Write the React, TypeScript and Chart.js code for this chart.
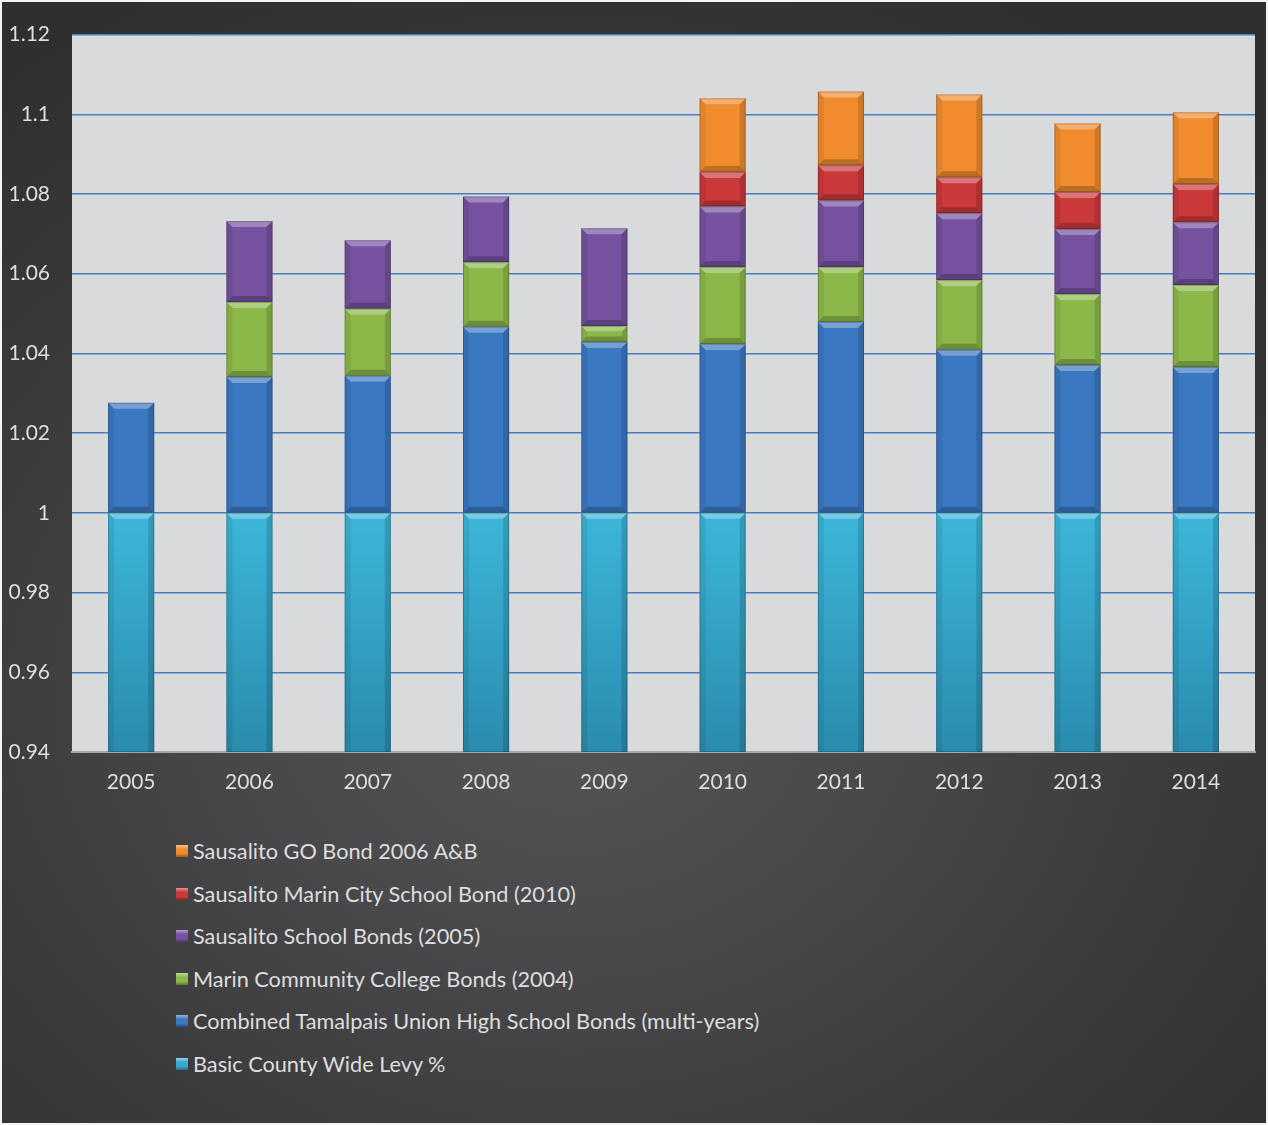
import React, { useEffect, useRef } from "react";
import { Chart, registerables } from "chart.js";

Chart.register(...registerables);

// ---- data ----
const years = ["2005", "2006", "2007", "2008", "2009", "2010", "2011", "2012", "2013", "2014"];
const basicLevy = [1, 1, 1, 1, 1, 1, 1, 1, 1, 1];
const tamalpaisBonds = [0.0276, 0.0341, 0.0344, 0.0467, 0.0429, 0.0424, 0.0479, 0.0409, 0.0371, 0.0366];
const marinCollegeBonds = [null, 0.0188, 0.0168, 0.0162, 0.004, 0.0193, 0.0138, 0.0175, 0.0178, 0.0206];
const sausalitoSchool2005 = [null, 0.0203, 0.0172, 0.0165, 0.0245, 0.0152, 0.0167, 0.0168, 0.0163, 0.0157];
const marinCitySchool2010 = [null, null, null, null, null, 0.0086, 0.0088, 0.009, 0.0093, 0.0096];
const goBond2006 = [null, null, null, null, null, 0.0185, 0.0185, 0.0208, 0.0172, 0.018];

const seriesNames = [
  "Basic County Wide Levy %",
  "Combined Tamalpais Union High School Bonds (multi-years)",
  "Marin Community College Bonds (2004)",
  "Sausalito School Bonds (2005)",
  "Sausalito Marin City School Bond (2010)",
  "Sausalito GO Bond 2006 A&B",
];
const seriesValues = [basicLevy, tamalpaisBonds, marinCollegeBonds, sausalitoSchool2005, marinCitySchool2010, goBond2006];
const seriesColors = ["#36a9cd", "#3b78c2", "#8cb84a", "#7652a0", "#cc393b", "#f08c2e"];

const yMin = 0.94;
const yMax = 1.12;
const yStep = 0.02;

const FONT = "Lato, 'Open Sans', sans-serif";
const TEXT = "#dedede";

const plotBgPlugin = {
  id: "plotBg",
  beforeDraw(chart: any) {
    const { ctx, chartArea } = chart;
    if (!chartArea) return;
    ctx.save();
    ctx.fillStyle = "#d9dadc";
    ctx.fillRect(chartArea.left, chartArea.top, chartArea.right - chartArea.left, chartArea.bottom - chartArea.top);
    ctx.restore();
  },
};

const bevelPlugin = {
  id: "bevel",
  afterDatasetsDraw(chart: any) {
    const { ctx, chartArea } = chart;
    ctx.save();
    ctx.beginPath();
    ctx.rect(chartArea.left, chartArea.top, chartArea.right - chartArea.left, chartArea.bottom - chartArea.top);
    ctx.clip();
    chart.data.datasets.forEach((_: any, i: number) => {
      const meta = chart.getDatasetMeta(i);
      meta.data.forEach((el: any) => {
        const p = el.getProps(["x", "y", "base", "width"], true);
        if (p.y == null || isNaN(p.y)) return;
        const left = p.x - p.width / 2;
        const right = p.x + p.width / 2;
        const top = Math.min(p.y, p.base);
        const rawBottom = Math.max(p.y, p.base);
        const clipped = rawBottom > chartArea.bottom + 0.5;
        const bottom = Math.min(rawBottom, chartArea.bottom);
        const h = bottom - top;
        if (h < 1) return;
        const b = Math.min(6, h / 3);
        // top bevel (light)
        ctx.fillStyle = "rgba(255,255,255,0.3)";
        ctx.beginPath();
        ctx.moveTo(left, top);
        ctx.lineTo(right, top);
        ctx.lineTo(right - b, top + b);
        ctx.lineTo(left + b, top + b);
        ctx.closePath();
        ctx.fill();
        // bottom bevel (dark)
        if (!clipped) {
          ctx.fillStyle = "rgba(0,0,0,0.22)";
          ctx.beginPath();
          ctx.moveTo(left, bottom);
          ctx.lineTo(right, bottom);
          ctx.lineTo(right - b, bottom - b);
          ctx.lineTo(left + b, bottom - b);
          ctx.closePath();
          ctx.fill();
        }
        const bb = clipped ? 0 : b;
        // left bevel
        ctx.fillStyle = "rgba(0,0,0,0.07)";
        ctx.beginPath();
        ctx.moveTo(left, top);
        ctx.lineTo(left + b, top + b);
        ctx.lineTo(left + b, bottom - bb);
        ctx.lineTo(left, bottom);
        ctx.closePath();
        ctx.fill();
        // right bevel
        ctx.fillStyle = "rgba(0,0,0,0.14)";
        ctx.beginPath();
        ctx.moveTo(right, top);
        ctx.lineTo(right - b, top + b);
        ctx.lineTo(right - b, bottom - bb);
        ctx.lineTo(right, bottom);
        ctx.closePath();
        ctx.fill();
        // outline
        ctx.strokeStyle = "rgba(0,0,0,0.2)";
        ctx.lineWidth = 1;
        ctx.strokeRect(left + 0.5, top + 0.5, p.width - 1, h - 1);
      });
    });
    ctx.restore();
  },
};

function LegendBox({ color }: { color: string }) {
  return (
    <span
      style={{
        display: "inline-block",
        width: 12,
        height: 12,
        background: `linear-gradient(180deg, rgba(255,255,255,0.45) 0%, ${color} 35%, ${color} 70%, rgba(0,0,0,0.35) 100%), ${color}`,
        marginRight: 5,
        flex: "0 0 auto",
      }}
    />
  );
}

export default function App() {
  const canvasRef = useRef<HTMLCanvasElement | null>(null);

  useEffect(() => {
    if (!canvasRef.current) return;
    const datasets = seriesNames.map((name, i) => ({
      label: name,
      data: seriesValues[i],
      backgroundColor:
        i === 0
          ? (c: any) => {
              const chart = c.chart;
              const area = chart.chartArea;
              if (!area) return seriesColors[0];
              const ys = chart.scales.y;
              const g = chart.ctx.createLinearGradient(0, ys.getPixelForValue(1), 0, area.bottom);
              g.addColorStop(0, "#3cb6da");
              g.addColorStop(1, "#2a8cae");
              return g;
            }
          : seriesColors[i],
      borderWidth: 0,
      barPercentage: 0.39,
      categoryPercentage: 1,
      stack: "s",
    }));

    const chart = new Chart(canvasRef.current, {
      type: "bar",
      data: { labels: years, datasets },
      plugins: [plotBgPlugin, bevelPlugin],
      options: {
        responsive: false,
        animation: false,
        devicePixelRatio: 1,
        layout: { padding: { top: 33, right: 13, left: 0, bottom: 0 } },
        plugins: {
          legend: { display: false },
          tooltip: { enabled: false },
        },
        scales: {
          x: {
            stacked: true,
            grid: { display: false, drawTicks: false },
            border: { display: true, color: "#a8a8a8", width: 2, dash: [2, 1] },
            ticks: { color: TEXT, font: { family: FONT, size: 21 }, padding: 18 },
            afterFit: (s: any) => {
              s.height = 48;
            },
          },
          y: {
            stacked: true,
            min: yMin,
            max: yMax,
            grid: {
              drawTicks: false,
              lineWidth: 1.5,
              color: (c: any) => (c.tick && Math.abs(c.tick.value - yMin) < 1e-6 ? "rgba(0,0,0,0)" : "#4a7ebf"),
            },
            border: { display: false },
            ticks: {
              stepSize: yStep,
              color: TEXT,
              font: { family: FONT, size: 21 },
              padding: 22,
              callback: (v: any) => String(Number(Number(v).toFixed(2))),
            },
            afterFit: (s: any) => {
              s.width = 72;
            },
          },
        },
      },
    });
    return () => chart.destroy();
  }, []);

  const legendTop = 851;
  const legendGap = 42.6;
  const legendOrder = seriesNames.map((n, i) => ({ name: n, color: seriesColors[i] })).reverse();

  return (
    <div style={{ position: "absolute", left: 0, top: 0, width: 1268, height: 1125, background: "#f4f4f4" }}>
      <div
        style={{
          position: "absolute",
          left: 2,
          top: 2,
          right: 2,
          bottom: 2,
          background:
            "radial-gradient(ellipse 75% 70% at 45% 62%, #555557 0%, #48484a 35%, #3b3b3c 65%, #2f2f2f 100%)",
        }}
      />
      <canvas
        ref={canvasRef}
        width={1268}
        height={800}
        style={{ position: "absolute", left: 0, top: 0, display: "block" }}
      />
      {legendOrder.map((item, k) => (
        <div
          key={item.name}
          style={{
            position: "absolute",
            left: 176,
            top: legendTop + k * legendGap - 14,
            height: 28,
            display: "flex",
            alignItems: "center",
            fontFamily: FONT,
            fontSize: 21.7,
            color: TEXT,
            whiteSpace: "nowrap",
          }}
        >
          <LegendBox color={item.color} />
          <span>{item.name}</span>
        </div>
      ))}
    </div>
  );
}
